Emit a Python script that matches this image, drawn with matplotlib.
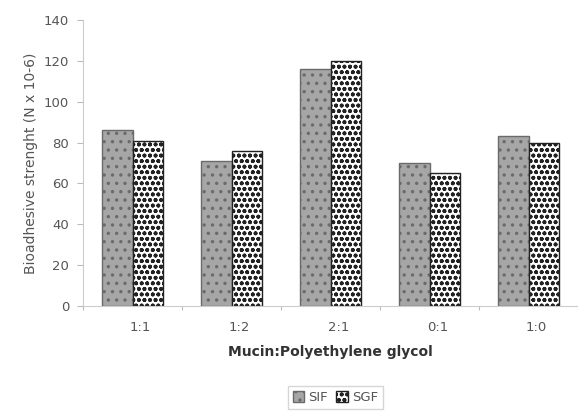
import matplotlib
matplotlib.use("Agg")
import matplotlib.pyplot as plt
import numpy as np

categories = ["1:1", "1:2", "2:1", "0:1", "1:0"]
sif = [86, 71, 116, 70, 83]
sgf = [81, 76, 120, 65, 80]

plt.rcParams['hatch.linewidth'] = 1.2
fig = plt.figure(figsize=(5.78, 4.11), dpi=100)
ax = fig.add_axes([0.1436, 0.2555, 0.8564, 0.6958])

x = np.arange(len(categories))
w = 0.31
b1 = ax.bar(x - w/2, sif, w, facecolor='#a6a6a6', edgecolor='#6a6a6a', hatch='..', linewidth=1.0, label='SIF')
b2 = ax.bar(x + w/2, sgf, w, facecolor='white', edgecolor='#222222', hatch='ooo', linewidth=1.0, label='SGF')

ax.set_ylim(0, 140)
ax.set_xlim(-0.5, 4.5)
ax.set_yticks(range(0, 141, 20))
ax.set_xticks(np.arange(-0.5, 4.6, 1.0))
ax.set_xticklabels([])
ax.set_xticks(x + 0.08, minor=True)
ax.set_xticklabels(categories, minor=True)
ax.tick_params(axis='x', which='minor', length=0, pad=11, labelsize=9.5, labelcolor='#555555')
ax.tick_params(axis='x', which='major', length=3, color='#bbbbbb')
ax.tick_params(axis='y', length=4, color='#bbbbbb', labelsize=9.5, labelcolor='#555555', pad=6)

for s in ['top', 'right']:
    ax.spines[s].set_visible(False)
for s in ['left', 'bottom']:
    ax.spines[s].set_color('#cccccc')

ax.set_xlabel('Mucin:Polyethylene glycol', fontsize=10, color='#333333', fontweight='bold', labelpad=8)
ax.set_ylabel('Bioadhesive strenght (N x 10-6)', fontsize=10, color='#555555', labelpad=4)

leg = fig.legend(handles=[b1, b2], labels=['SIF', 'SGF'], loc='lower center', bbox_to_anchor=(0.58, -0.01),
                 ncol=2, fontsize=9.5, frameon=True, fancybox=False, edgecolor='#cccccc',
                 handlelength=0.9, handleheight=0.9, handletextpad=0.3, columnspacing=0.6, borderpad=0.35)
for t in leg.get_texts():
    t.set_color('#555555')

fig.savefig('out.png', dpi=100)
